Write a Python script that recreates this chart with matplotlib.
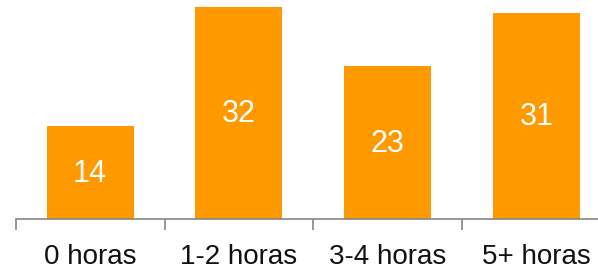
import matplotlib
matplotlib.use("Agg")
import matplotlib.pyplot as plt
import numpy as np

categories = ["0 horas", "1-2 horas", "3-4 horas", "5+ horas"]
values = [14, 32, 23, 31]

bar_color = "#FF9900"
axis_color = "#868686"

plt.rcParams["font.family"] = ["Liberation Sans", "DejaVu Sans"]

fig = plt.figure(figsize=(5.98, 2.71), dpi=100)
# axes runs a bit past the right edge, the way the original was cropped
ax = fig.add_axes([15.7 / 598, 52 / 271, (611 - 15.7) / 598, 219 / 271])

x = np.arange(len(categories))
bars = ax.bar(x, values, width=0.585, color=bar_color)

for xi, v in zip(x, values):
    ax.text(xi, v / 2 - 0.2, str(v), ha="center", va="center", color="white", fontsize=22)

ax.set_xlim(-0.5, len(categories) - 0.5)
ax.set_ylim(0, 33)

for s in ["top", "right", "left"]:
    ax.spines[s].set_visible(False)
ax.spines["bottom"].set_color(axis_color)
ax.spines["bottom"].set_linewidth(1.2)

ax.set_yticks([])
ax.set_xticks(x)
ax.set_xticklabels(categories, fontsize=20, color="#111111")
ax.tick_params(axis="x", which="major", length=0, pad=18)
ax.set_xticks(np.arange(-0.5, len(categories), 1), minor=True)
ax.tick_params(axis="x", which="minor", length=8, width=1.2, color=axis_color)

fig.savefig("out.png", dpi=100)
